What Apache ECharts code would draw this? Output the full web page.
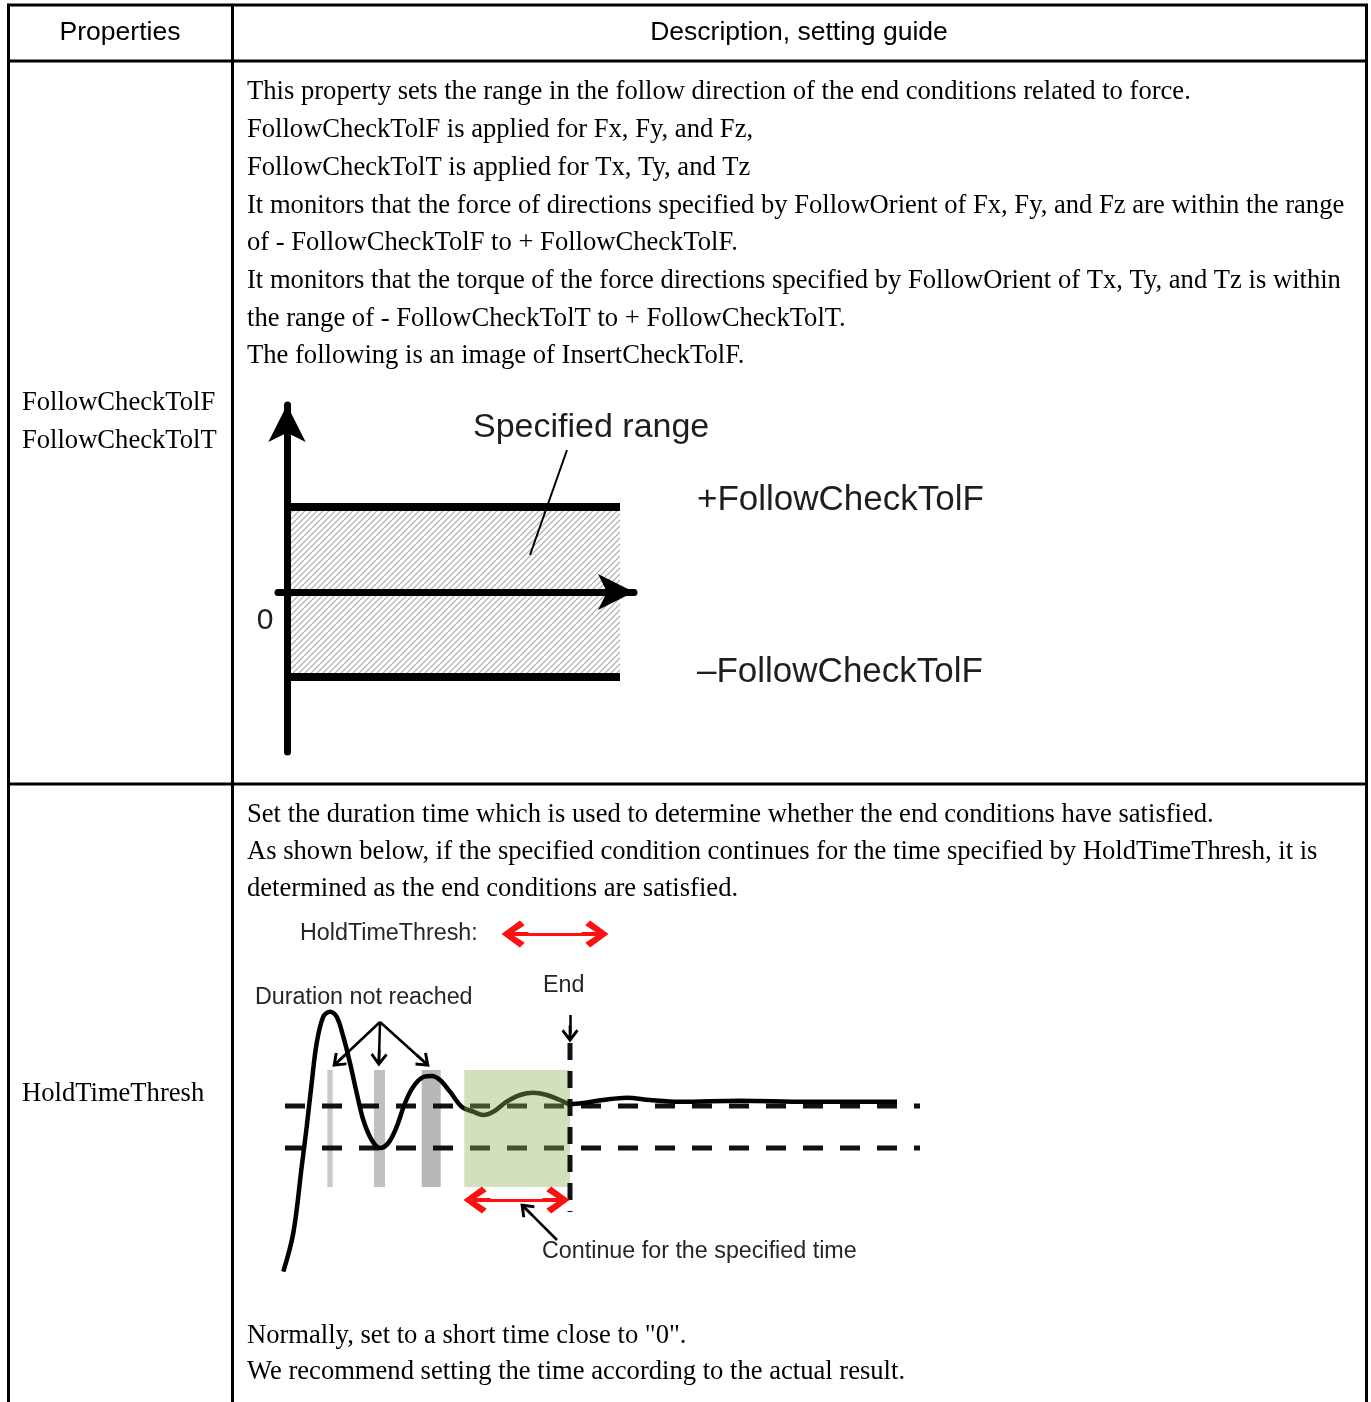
<!DOCTYPE html>
<html>
<head>
<meta charset="utf-8">
<title>FollowCheckTol / HoldTimeThresh</title>
<script src="https://cdn.jsdelivr.net/npm/echarts@6/dist/echarts.min.js"></script>
<style>
html, body { margin: 0; padding: 0; background: #fff; }
#chart { width: 1371px; height: 1402px; }
</style>
</head>
<body>
<div id="chart"></div>
<script>
// ---- table text ----
var headerLabels = ['Properties', 'Description, setting guide'];
var followNames = ['FollowCheckTolF', 'FollowCheckTolT'];
var followLines = [
  'This property sets the range in the follow direction of the end conditions related to force.',
  'FollowCheckTolF is applied for Fx, Fy, and Fz,',
  'FollowCheckTolT is applied for Tx, Ty, and Tz',
  'It monitors that the force of directions specified by FollowOrient of Fx, Fy, and Fz are within the range',
  'of - FollowCheckTolF to + FollowCheckTolF.',
  'It monitors that the torque of the force directions specified by FollowOrient of Tx, Ty, and Tz is within',
  'the range of - FollowCheckTolT to + FollowCheckTolT.',
  'The following is an image of InsertCheckTolF.'
];
var holdName = 'HoldTimeThresh';
var holdLinesTop = [
  'Set the duration time which is used to determine whether the end conditions have satisfied.',
  'As shown below, if the specified condition continues for the time specified by HoldTimeThresh, it is',
  'determined as the end conditions are satisfied.'
];
var holdLinesBottom = [
  'Normally, set to a short time close to "0".',
  'We recommend setting the time according to the actual result.'
];

// ---- diagram 1: specified range (x: time, y: force) ----
var tolLevels = [8.5, -8.5];
var bandSpan = [0.35, 33.3];
var leaderLine = [[28.0, 14.2], [24.3, 3.7]];
var rangeLabels = ['Specified range', '+FollowCheckTolF', '\u2013FollowCheckTolF', '0'];

// ---- diagram 2: hold time (x: time, y: response) ----
var respT = [0.33, 1.33, 2.17, 2.67, 3.17, 3.67, 4.33, 5.0, 5.67, 6.33, 7.0, 7.67, 8.33, 9.17, 10.0,
  10.83, 11.67, 12.5, 13.33, 14.33, 15.17, 16.0, 17.0, 18.17, 19.33, 20.33, 21.33, 22.67, 24.0,
  25.33, 26.67, 28.0, 29.0, 30.3, 32.3, 34.7, 37.0, 40.0, 46.0, 52.7, 61.7];
var respV = [0.83, 4.7, 11.33, 15.33, 19.7, 23.7, 26.33, 26.83, 26.33, 24.33, 21.7, 18.7, 16.0, 14.0, 13.2,
  13.7, 15.33, 17.7, 19.33, 20.3, 20.4, 20.0, 18.83, 17.33, 16.83, 16.5, 16.83, 17.83, 18.5,
  18.73, 18.5, 18.0, 17.6, 17.7, 18.0, 18.23, 18.0, 17.83, 17.93, 17.83, 17.83];
var checkLevels = [17.4, 13.2];
var levelSpan = [0.5, 64];
var endTime = 29.0;
var endSpan = [6.8, 23.7];
var shortSpans = [[4.73, 5.27], [9.4, 10.5], [14.17, 16.07]];
var shortColors = ['#cacaca', '#c0c0c0', '#b8b8b8'];
var holdSpan = [18.43, 29.0];
var spanRange = [9.3, 21.0];
var pointerArrows = [
  [[10.0, 25.8], [5.86, 21.9]],
  [[10.0, 25.8], [9.9, 22.2]],
  [[10.0, 25.8], [14.33, 21.9]],
  [[29.0, 26.5], [29.0, 24.6]],
  [[27.7, 4.0], [24.64, 7.06]]
];
var holdArrows = [
  [[19.7, 8.0], [27.6, 8.0]],
  [[23.5, 34.6], [31.5, 34.6]]
];
var holdLabels = ['HoldTimeThresh:', 'Duration not reached', 'End', 'Continue for the specified time'];

// ---- helpers ----
var SERIF = '"Liberation Serif", "Times New Roman", serif';
var SANS = '"Liberation Sans", Arial, sans-serif';

function hatchPattern() {
  var c = document.createElement('canvas');
  c.width = 6; c.height = 6;
  var g = c.getContext('2d');
  g.strokeStyle = '#a9a9a9';
  g.lineWidth = 1.2;
  g.beginPath();
  g.moveTo(0, 6); g.lineTo(6, 0);
  g.moveTo(-1, 1); g.lineTo(1, -1);
  g.moveTo(5, 7); g.lineTo(7, 5);
  g.stroke();
  return c;
}
var hatch = { image: hatchPattern(), repeat: 'repeat' };

function rectRender(fillOf) {
  return function (params, api) {
    var p0 = api.coord([api.value(0), api.value(3)]);
    var p1 = api.coord([api.value(1), api.value(2)]);
    return {
      type: 'rect',
      shape: { x: p0[0], y: p0[1], width: p1[0] - p0[0], height: p1[1] - p0[1] },
      style: { fill: fillOf(params.dataIndex) }
    };
  };
}

function seg(grid, pts, style, z) {
  return {
    type: 'line', xAxisIndex: grid, yAxisIndex: grid, data: pts,
    symbol: 'none', silent: true, z: z || 2,
    lineStyle: style
  };
}

function txt(x, y, s, font, align, color) {
  return {
    type: 'text', x: x, y: y, silent: true,
    style: { text: s, font: font, fill: color || '#000', textAlign: align || 'left', textVerticalAlign: 'middle' }
  };
}
function hline(x1, x2, y) {
  return { type: 'line', silent: true, shape: { x1: x1, y1: y, x2: x2, y2: y }, style: { stroke: '#000', lineWidth: 3 } };
}
function vline(x, y1, y2) {
  return { type: 'line', silent: true, shape: { x1: x, y1: y1, x2: x, y2: y2 }, style: { stroke: '#000', lineWidth: 3 } };
}

// table frame + text
var bodyFont = '26.6px ' + SERIF;
var headFont = '26.5px ' + SANS;
var graphics = [
  hline(7, 1368, 5), hline(7, 1368, 61), hline(7, 1368, 784),
  vline(8.5, 4, 1402), vline(232.5, 4, 1402), vline(1366.5, 4, 1402),
  txt(120, 33, headerLabels[0], headFont, 'center'),
  txt(799, 33, headerLabels[1], headFont, 'center')
];
followNames.forEach(function (s, i) { graphics.push(txt(22, 403.5 + i * 38, s, bodyFont)); });
followLines.forEach(function (s, i) { graphics.push(txt(247, 92.5 + i * 37.7, s, bodyFont)); });
graphics.push(txt(22, 1094.5, holdName, bodyFont));
holdLinesTop.forEach(function (s, i) { graphics.push(txt(247, 815.5 + i * 37, s, bodyFont)); });
holdLinesBottom.forEach(function (s, i) { graphics.push(txt(247, 1336.5 + i * 36, s, bodyFont)); });

// diagram annotations
var dgColor = '#1e1e1e';
graphics.push(
  txt(473, 428, rangeLabels[0], '34px ' + SANS, 'left', dgColor),
  txt(697, 500, rangeLabels[1], '35px ' + SANS, 'left', dgColor),
  txt(697, 672, rangeLabels[2], '35px ' + SANS, 'left', dgColor),
  txt(265, 621, rangeLabels[3], '30px ' + SANS, 'center', dgColor)
);
var smallFont = '23.3px ' + SANS;
var holdPos = [[300, 934], [255, 998], [543, 986], [542, 1252]];
holdLabels.forEach(function (s, i) {
  graphics.push(txt(holdPos[i][0], holdPos[i][1], s, smallFont, 'left', '#262626'));
});

var redHead = 'path://M50,0 L100,68 L82,86 L57,48 L57,100 L43,100 L43,48 L18,86 L0,68 Z';
var blackHead = 'path://M50,0 L100,66 L88,78 L58,40 L58,100 L42,100 L42,40 L12,78 L0,66 Z';

var series = [
  // diagram 1
  {
    type: 'custom', xAxisIndex: 0, yAxisIndex: 0, silent: true, z: -1,
    data: [[bandSpan[0], bandSpan[1], tolLevels[1], tolLevels[0]]],
    renderItem: rectRender(function () { return hatch; })
  },
  seg(0, [[0, tolLevels[0]], [bandSpan[1], tolLevels[0]]], { color: '#000', width: 8 }),
  seg(0, [[0, tolLevels[1]], [bandSpan[1], tolLevels[1]]], { color: '#000', width: 8 }),
  seg(0, leaderLine, { color: '#000', width: 2 }),

  // diagram 2
  {
    type: 'custom', xAxisIndex: 1, yAxisIndex: 1, silent: true, z: 1,
    data: shortSpans.map(function (s) { return [s[0], s[1], spanRange[0], spanRange[1]]; }),
    renderItem: rectRender(function (i) { return shortColors[i]; })
  },
  seg(1, [[levelSpan[0], checkLevels[0]], [levelSpan[1], checkLevels[0]]], { color: '#111', width: 5, type: [20, 17] }, 2),
  seg(1, [[levelSpan[0], checkLevels[1]], [levelSpan[1], checkLevels[1]]], { color: '#111', width: 5, type: [20, 17] }, 2),
  {
    type: 'line', xAxisIndex: 1, yAxisIndex: 1, silent: true, z: 3,
    symbol: 'none', smooth: 0.35,
    data: respT.map(function (t, i) { return [t, respV[i]]; }),
    lineStyle: { color: '#000', width: 4.5 }
  },
  {
    type: 'custom', xAxisIndex: 1, yAxisIndex: 1, silent: true, z: 4,
    data: [[holdSpan[0], holdSpan[1], spanRange[0], spanRange[1]]],
    renderItem: rectRender(function () { return 'rgba(142,181,86,0.4)'; })
  },
  seg(1, [[endTime, endSpan[1]], [endTime, endSpan[0]]], { color: '#111', width: 5, type: [17, 11] }, 5),
  {
    type: 'lines', coordinateSystem: 'cartesian2d', xAxisIndex: 1, yAxisIndex: 1, silent: true, z: 6,
    symbol: ['none', blackHead], symbolSize: 17,
    lineStyle: { color: '#000', width: 2.5, opacity: 1 },
    data: pointerArrows.map(function (c) { return { coords: c }; })
  },
  {
    type: 'lines', coordinateSystem: 'cartesian2d', xAxisIndex: 1, yAxisIndex: 1, silent: true, z: 6,
    symbol: [redHead, redHead], symbolSize: 27,
    lineStyle: { color: '#ff1010', width: 3, opacity: 1 },
    data: holdArrows.map(function (c) { return { coords: c }; })
  }
];

var hiddenAxis = { show: false, type: 'value' };
var chart = echarts.init(document.getElementById('chart'));
chart.setOption({
  animation: false,
  backgroundColor: '#fff',
  grid: [
    { left: 278, top: 405, width: 356, height: 347 },
    { left: 280, top: 900, width: 640, height: 380 }
  ],
  xAxis: [
    {
      gridIndex: 0, type: 'value', min: -0.9, max: 34.7,
      axisLine: { show: true, onZero: true, symbol: ['none', 'arrow'], symbolSize: [27, 36], lineStyle: { color: '#000', width: 7 } },
      axisTick: { show: false }, axisLabel: { show: false }, splitLine: { show: false }
    },
    Object.assign({ gridIndex: 1, min: 0, max: 64 }, hiddenAxis)
  ],
  yAxis: [
    {
      gridIndex: 0, type: 'value', min: -16, max: 18.7,
      axisLine: { show: true, onZero: true, symbol: ['none', 'arrow'], symbolSize: [28, 37], lineStyle: { color: '#000', width: 7 } },
      axisTick: { show: false }, axisLabel: { show: false }, splitLine: { show: false }
    },
    Object.assign({ gridIndex: 1, min: 0, max: 38 }, hiddenAxis)
  ],
  series: series,
  graphic: graphics
});
</script>
</body>
</html>
